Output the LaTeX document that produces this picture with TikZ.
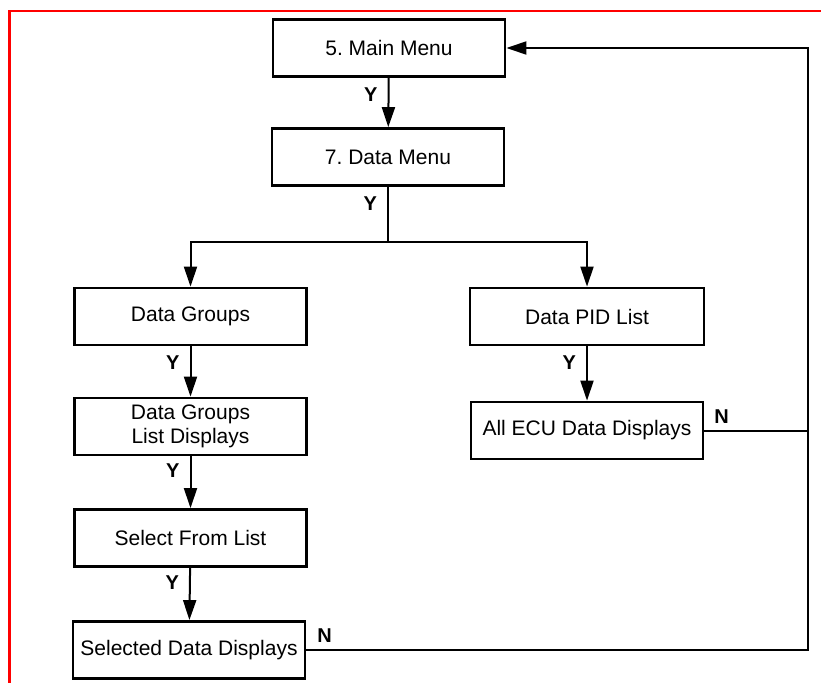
\documentclass[tikz,border=0pt]{standalone}
\usepackage{fontspec}
\setmainfont{Liberation Sans}
\frenchspacing
\usetikzlibrary{arrows.meta,positioning}

\begin{document}
\begin{tikzpicture}[x=1pt,y=-1pt,>={Triangle[length=20pt,width=13pt]},
  box/.style={draw,line width=2.8pt,rectangle,minimum width=232pt,minimum height=57pt,
    align=center,font=\fontsize{21}{24}\selectfont},
  lbl/.style={inner sep=0pt,font=\fontsize{20}{22}\selectfont\bfseries},
  link/.style={line width=2pt}]
\useasboundingbox (0,0) rectangle (821,682);
\draw[red,line width=2.5pt] (9.5,690) -- (9.5,11) -- (830,11);

\node[box] (main) at (389,48) {5. Main Menu};
\node[box] (data) at (388,157) {7. Data Menu};
\node[box] (groups) at (190.5,316.5) {Data Groups};
\node[box] (glist) at (190.5,426.5) {Data Groups\\List Displays};
\node[box] (select) at (190.5,538) {Select From List};
\node[box] (selected) at (189,650) {Selected Data Displays};
\node[box,minimum width=234pt] (pid) at (587,316.5) {Data PID List};
\node[box] (ecu) at (587,430.5) {All ECU Data Displays};

\coordinate (split) at (388,242);
\coordinate (rail) at (808,48);

\draw[link,->] (main) -- node[lbl,pos=0.35,left=10pt]{Y} (data);
\draw[link] (data) -- node[lbl,pos=0.3,left=10pt]{Y} (split);
\draw[link,->] (split) -| (groups);
\draw[link,->] (split) -| (pid);
\draw[link,->] (groups) -- node[lbl,pos=0.32,left=10pt]{Y} (glist);
\draw[link,->] (glist) -- node[lbl,pos=0.28,left=10pt]{Y} (select);
\draw[link,->] (select) -- node[lbl,pos=0.29,left=10pt]{Y} (selected);
\draw[link,->] (pid) -- node[lbl,pos=0.3,left=10pt]{Y} (ecu);

\draw[link,->] (selected.east) node[lbl,above right=7pt and 10pt]{N} -| (rail) -- (main.east);
\draw[link] (ecu.east) node[lbl,above right=6pt and 9pt]{N} -- (ecu.east -| rail);
\end{tikzpicture}
\end{document}
